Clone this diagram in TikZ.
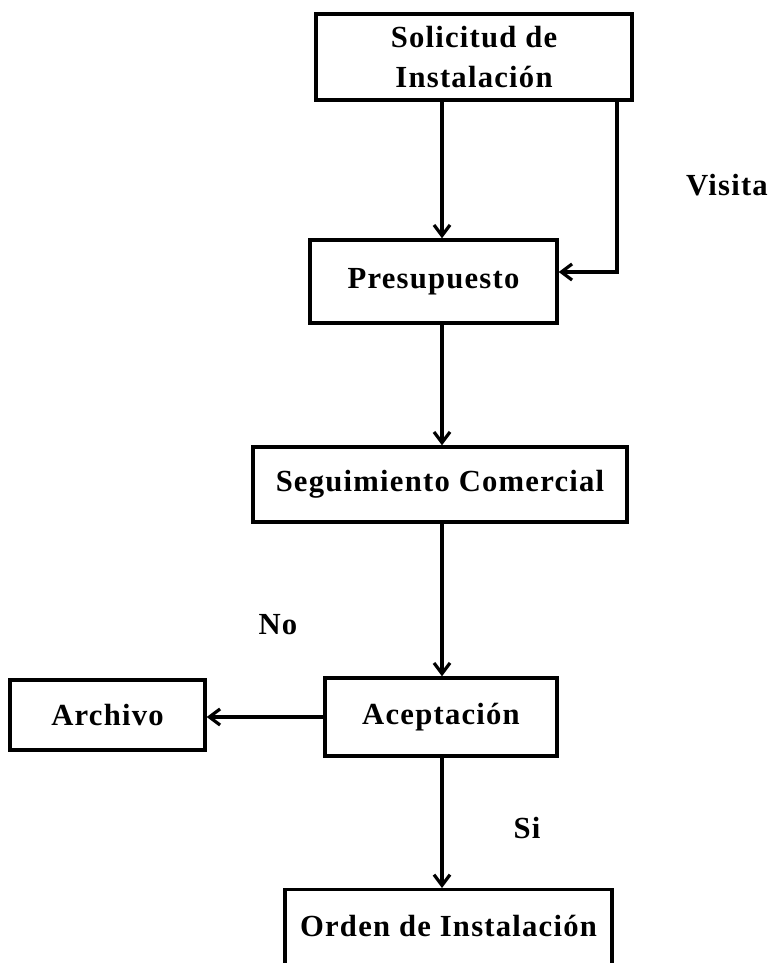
\documentclass[tikz,border=0pt]{standalone}
\usepackage{fontspec}
\setmainfont{Liberation Serif}[LetterSpace=4]
\usetikzlibrary{arrows.meta}
\begin{document}
\begin{tikzpicture}[x=0.75pt,y=-0.75pt,
  box/.style={draw, line width=2.6pt, inner sep=0pt, align=center, font=\fontsize{23}{30}\selectfont\bfseries},
  lbl/.style={inner sep=0pt, font=\fontsize{23}{30}\selectfont\bfseries},
  arr/.style={draw, line width=2.4pt, -{Straight Barb[length=8pt,width=12pt]}}]
\useasboundingbox (0,0) rectangle (769,963);
\clip (0,0) rectangle (769,963);
\fill[white] (0,0) rectangle (769,963);
\node[box, minimum width=237pt, minimum height=64.5pt] (sol) at (474,57) {Solicitud de\\Instalación};
\node[box, minimum width=185.25pt, minimum height=62.25pt] (pre) at (433.5,281.5) {Presupuesto};
\node[box, minimum width=280.5pt, minimum height=56.25pt] (seg) at (440,484.5) {Seguimiento Comercial};
\node[box, minimum width=174pt, minimum height=58.5pt] (ace) at (441,717) {Aceptación};
\node[box, minimum width=146.25pt, minimum height=52.5pt] (arc) at (107.5,715) {Archivo};
\node[box, anchor=north, minimum width=245.25pt, inner ysep=0pt, text height=35pt, text depth=50pt] (ord) at (448.5,888) {Orden de Instalación};
\node[lbl] (vis) at (727,185) {Visita};
\node[lbl] (no) at (278,625) {No};
\node[lbl] (si) at (527,828) {Si};
\coordinate (spine) at (442,0);
\coordinate (loop) at (617,272);
\draw[arr] (sol.south -| spine) -- (pre.north -| spine);
\draw[arr] (sol.south -| loop) |- (pre.east |- loop);
\draw[arr] (pre.south -| spine) -- (seg.north -| spine);
\draw[arr] (seg.south -| spine) -- (ace.north -| spine);
\draw[arr] (ace.west) -- (arc.east |- ace.west);
\draw[arr] (ace.south -| spine) -- (ord.north -| spine);
\end{tikzpicture}
\end{document}
